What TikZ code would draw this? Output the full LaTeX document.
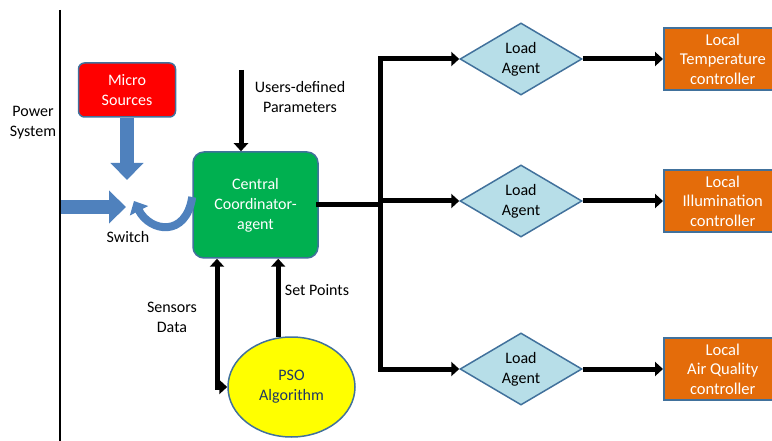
\documentclass[tikz,border=0pt]{standalone}
\usepackage{fontspec}
\setmainfont{Carlito}
\usetikzlibrary{arrows.meta,shapes.geometric}
\definecolor{edgeblue}{RGB}{65,113,156}
\definecolor{arrowblue}{RGB}{79,129,189}
\definecolor{microred}{RGB}{255,0,0}
\definecolor{coordgreen}{RGB}{0,176,80}
\definecolor{agentblue}{RGB}{183,222,232}
\definecolor{ctrlorange}{RGB}{228,108,10}
\definecolor{psoyellow}{RGB}{255,255,0}
\definecolor{psonavy}{RGB}{31,56,100}
\tikzset{
  txt/.style={align=center,font=\fontsize{16}{20}\selectfont},
  box/.style={txt,draw=edgeblue,line width=1.5pt,inner sep=0pt},
  agent/.style={box,diamond,fill=agentblue,minimum width=122pt,minimum height=62pt},
  ctrl/.style={box,rectangle,fill=ctrlorange,text=white,anchor=west,minimum width=118pt,minimum height=62pt,font=\fontsize{16.5}{19.5}\selectfont},
  blk/.style={line width=5pt,-{Triangle[length=8pt,width=14pt]}},
  dblk/.style={line width=5pt,{Triangle[length=8pt,width=14pt]}-{Triangle[length=8pt,width=14pt]}},
  bluearrow/.style={arrowblue,line width=14pt,-{Triangle[length=17pt,width=32pt]}}
}
\begin{document}
\begin{tikzpicture}[x=1pt,y=-1pt]
\useasboundingbox (0,0) rectangle (772,441);
\clip (0,0) rectangle (772,441);
% power system side
\draw[line width=1.8pt] (60,10) -- (60,441);
\node[txt] (power) at (33,123) {Power\\System};
\node[box,rectangle,rounded corners=6pt,fill=microred,text=white,minimum width=97pt,minimum height=54pt] (micro) at (127,90) {Micro\\Sources};
\node[box,rectangle,rounded corners=11pt,fill=coordgreen,text=white,minimum width=125pt,minimum height=106pt] (coord) at (255.5,205) {Central\\Coordinator-\\agent};
\node[box,ellipse,fill=psoyellow,text=psonavy,minimum width=127pt,minimum height=100pt] (pso) at (291.5,387) {PSO\\Algorithm};
\coordinate (grid) at (61,207);
\coordinate (sw) at (126,207);
\node[txt] (switch) at (128,237) {Switch};
\draw[bluearrow] (grid) -- (sw);
\draw[bluearrow] (micro.south) -- (micro.south |- 0,180);
\draw[arrowblue,line width=8pt,-{Triangle[length=11pt,width=20pt]}]
  ([yshift=8pt]coord.west) .. controls (186,238) and (150,232) .. (134,201);
% users input
\coordinate (usr) at (241,70);
\node[txt] (users) at (300,97) {Users-defined\\Parameters};
\draw[blk] (usr) -- (usr |- coord.north);
% pso loop
\coordinate (sd) at (217,387);
\node[txt] (sens) at (172,317) {Sensors\\Data};
\node[txt] (setp) at (317,290) {Set Points};
\draw[dblk] (sd |- coord.south) -- (sd) -- (pso.west);
\draw[blk] (pso.105) -- (pso.105 |- coord.south);
% load agents
\node[agent] (a1) at (521,59) {Load\\Agent};
\node[agent] (a2) at (521,201) {Load\\Agent};
\node[agent] (a3) at (521,369) {Load\\Agent};
\node[ctrl] (c1) at (663,59) {Local\\Temperature\\controller};
\node[ctrl] (c2) at (663,201) {Local\\Illumination\\controller};
\node[ctrl] (c3) at (663,369) {Local\\Air Quality\\controller};
\coordinate (bus) at (380,0);
\draw[line width=5pt,line cap=rect] (coord.east) -- (coord.east -| bus);
\draw[line width=5pt,line cap=rect] (a1.west -| bus) -- (a3.west -| bus);
\foreach \i in {1,2,3}{
  \draw[blk] (a\i.west -| bus) -- (a\i.west);
  \draw[blk] (a\i.east) -- (c\i.west);
}
\end{tikzpicture}
\end{document}
